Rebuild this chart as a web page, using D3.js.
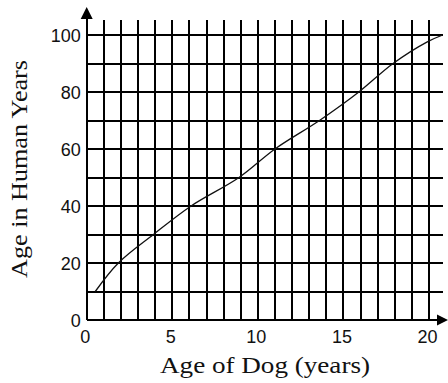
<!DOCTYPE html>
<html>
<head>
<meta charset="utf-8">
<script src="https://cdn.jsdelivr.net/npm/d3@7"></script>
<style>
  html, body { margin: 0; padding: 0; background: #fff; }
  svg { display: block; }
</style>
</head>
<body>
<svg id="chart" width="448" height="383"></svg>
<script>
// Dog age (years) vs. equivalent human age
const dogAge   = [0.5, 1.85, 3.9, 6.1, 8.9, 11.0, 13.6, 15.9, 17.9, 19.9, 20.8];
const humanAge = [10,  20,   30,  40,  50,  60,   70,   80,   90,   97.6, 100];

const xTicks = [0, 5, 10, 15, 20];
const yTicks = [0, 20, 40, 60, 80, 100];
const xGrid = d3.range(0, 21, 1);
const yGrid = d3.range(0, 101, 10);

const xTitle = "Age of Dog (years)";
const yTitle = "Age in Human Years";

const svg = d3.select("#chart");

const x = d3.scaleLinear().domain([0, 20]).range([86.7, 429]);
const y = d3.scaleLinear().domain([0, 100]).range([320, 35]);

const xMax = 20.8, yMax = 105.3;

// grid
const grid = svg.append("g").attr("stroke", "#000").attr("stroke-width", 2)
  .attr("shape-rendering", "crispEdges");
grid.selectAll("line.v").data(xGrid).join("line").attr("class", "v")
  .attr("x1", d => x(d)).attr("x2", d => x(d))
  .attr("y1", y(0)).attr("y2", y(yMax));
grid.selectAll("line.h").data(yGrid).join("line").attr("class", "h")
  .attr("x1", x(0)).attr("x2", x(xMax))
  .attr("y1", d => y(d)).attr("y2", d => y(d));

// axis lines with arrowheads
const ax = svg.append("g");
ax.append("line").attr("x1", x(0)).attr("x2", x(0)).attr("y1", y(0)).attr("y2", 12)
  .attr("stroke", "#000").attr("stroke-width", 2).attr("shape-rendering", "crispEdges");
ax.append("path").attr("d", `M${x(0)},7 L${x(0) - 6},19 L${x(0) + 6},19 Z`).attr("fill", "#000");
ax.append("line").attr("x1", x(0)).attr("x2", 442).attr("y1", y(0)).attr("y2", y(0))
  .attr("stroke", "#000").attr("stroke-width", 2).attr("shape-rendering", "crispEdges");
ax.append("path").attr("d", `M448,${y(0)} L437,${y(0) - 5.5} L437,${y(0) + 5.5} Z`).attr("fill", "#000");

// tick labels
const tickFont = "'Liberation Sans', Arial, sans-serif";
const xAxis = svg.append("g").attr("transform", `translate(-2,${y(0)})`)
  .call(d3.axisBottom(x).tickValues(xTicks).tickSize(0).tickPadding(10).tickFormat(d3.format("d")));
const yAxis = svg.append("g").attr("transform", `translate(${x(0) - 6},1)`)
  .call(d3.axisLeft(y).tickValues(yTicks).tickSize(0).tickPadding(0).tickFormat(d3.format("d")));
[xAxis, yAxis].forEach(g => {
  g.select(".domain").remove();
  g.selectAll("text").attr("fill", "#111").style("font-family", tickFont).style("font-size", "18px");
});

// curve
const line = d3.line().x((d, i) => x(dogAge[i])).y((d, i) => y(humanAge[i]))
  .curve(d3.curveCatmullRom.alpha(0.5));
svg.append("path").datum(humanAge).attr("d", line)
  .attr("fill", "none").attr("stroke", "#111").attr("stroke-width", 1.3);

// titles
const titleFont = "'Liberation Serif', 'Times New Roman', serif";
svg.append("text").attr("x", 265).attr("y", 373).attr("text-anchor", "middle")
  .attr("textLength", 210).attr("lengthAdjust", "spacingAndGlyphs")
  .style("font-family", titleFont).style("font-size", "24px")
  .attr("fill", "#111").text(xTitle);
svg.append("text").attr("transform", "translate(27,169) rotate(-90)").attr("text-anchor", "middle")
  .attr("textLength", 218).attr("lengthAdjust", "spacingAndGlyphs")
  .style("font-family", titleFont).style("font-size", "24px")
  .attr("fill", "#111").text(yTitle);
</script>
</body>
</html>
